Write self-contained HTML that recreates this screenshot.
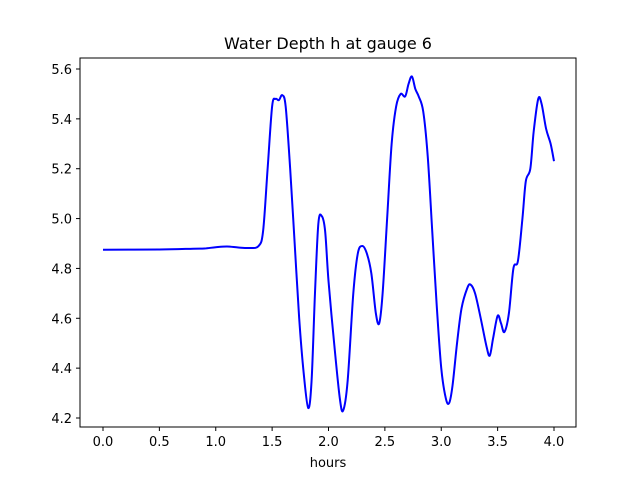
<!DOCTYPE html>
<html><head><meta charset="utf-8"><style>
body{margin:0;background:#fff;}
svg{display:block;font-family:"DejaVu Sans","Liberation Sans",sans-serif;}
</style></head><body>
<svg id="chart" width="640" height="480">
<rect x="0" y="0" width="640" height="480" fill="#fff"/>
<text x="328" y="49" text-anchor="middle" font-size="16">Water Depth h at gauge 6</text>
<g id="ticks"></g>
<path id="line" fill="none" stroke="#0000ff" stroke-width="2" stroke-linejoin="round"/>
<rect x="80" y="58" width="496" height="369" fill="none" stroke="#000" stroke-width="1"/>
<text x="328" y="467" text-anchor="middle" font-size="13">hours</text>
</svg>
<script>
const hours=[0,0.5,0.8,0.9,1.0,1.1,1.2,1.3,1.38,1.42,1.46,1.5,1.53,1.56,1.59,1.62,1.66,1.7,1.74,1.78,1.82,1.85,1.88,1.91,1.94,1.97,2.0,2.05,2.1,2.13,2.17,2.22,2.26,2.3,2.34,2.38,2.42,2.45,2.48,2.52,2.56,2.6,2.64,2.68,2.71,2.74,2.77,2.8,2.84,2.88,2.92,2.96,3.0,3.04,3.07,3.1,3.14,3.18,3.23,3.26,3.3,3.35,3.4,3.43,3.46,3.5,3.53,3.56,3.6,3.64,3.68,3.72,3.75,3.79,3.82,3.86,3.89,3.93,3.97,4.0];
const depth=[4.875,4.876,4.879,4.88,4.885,4.888,4.884,4.882,4.89,4.95,5.2,5.45,5.48,5.475,5.495,5.45,5.2,4.9,4.6,4.38,4.24,4.35,4.7,4.98,5.01,4.95,4.75,4.5,4.28,4.23,4.35,4.7,4.86,4.89,4.86,4.78,4.62,4.58,4.7,5.0,5.3,5.45,5.5,5.49,5.54,5.57,5.52,5.49,5.43,5.25,4.95,4.65,4.4,4.28,4.26,4.33,4.5,4.64,4.72,4.735,4.7,4.6,4.49,4.45,4.52,4.61,4.58,4.545,4.62,4.8,4.83,5.0,5.15,5.2,5.35,5.48,5.46,5.36,5.3,5.23];
const xTicks=[0,0.5,1.0,1.5,2.0,2.5,3.0,3.5,4.0];
const yTicks=[4.2,4.4,4.6,4.8,5.0,5.2,5.4,5.6];
const xs=v=>103+(v-0)*(554-103)/4;
const ys=v=>418-(v-4.2)*(418-69)/1.4;
const NS='http://www.w3.org/2000/svg';
const g=document.getElementById('ticks');
xTicks.forEach(t=>{
 const l=document.createElementNS(NS,'line');
 
 
 l.setAttribute('x1',xs(t));l.setAttribute('x2',xs(t));l.setAttribute('y1',427);l.setAttribute('y2',431);l.setAttribute('stroke','#000');g.appendChild(l);
 const tx=document.createElementNS(NS,'text');
 
 
 tx.setAttribute('x',xs(t));tx.setAttribute('y',446);tx.setAttribute('text-anchor','middle');tx.setAttribute('font-size','13');tx.textContent=t.toFixed(1);g.appendChild(tx);
});
yTicks.forEach(t=>{
 const l=document.createElementNS(NS,'line');
 
 
 l.setAttribute('x1',76);l.setAttribute('x2',80);l.setAttribute('y1',ys(t));l.setAttribute('y2',ys(t));l.setAttribute('stroke','#000');g.appendChild(l);
 const tx=document.createElementNS(NS,'text');
 
 
 tx.setAttribute('x',72);tx.setAttribute('y',ys(t)+5);tx.setAttribute('text-anchor','end');tx.setAttribute('font-size','13');tx.textContent=t.toFixed(1);g.appendChild(tx);
});
const P=hours.map((h,i)=>[xs(h),ys(depth[i])]);
let d='M'+P[0][0]+','+P[0][1];
for(let i=0;i<P.length-1;i++){
 const p0=P[i-1]||P[i],p1=P[i],p2=P[i+1],p3=P[i+2]||P[i+1];
 const c1=[p1[0]+(p2[0]-p0[0])/6,p1[1]+(p2[1]-p0[1])/6];
 const c2=[p2[0]-(p3[0]-p1[0])/6,p2[1]-(p3[1]-p1[1])/6];
 d+=' C'+c1+' '+c2+' '+p2;
}
document.getElementById('line').setAttribute('d',d);
</script>
</body></html>
